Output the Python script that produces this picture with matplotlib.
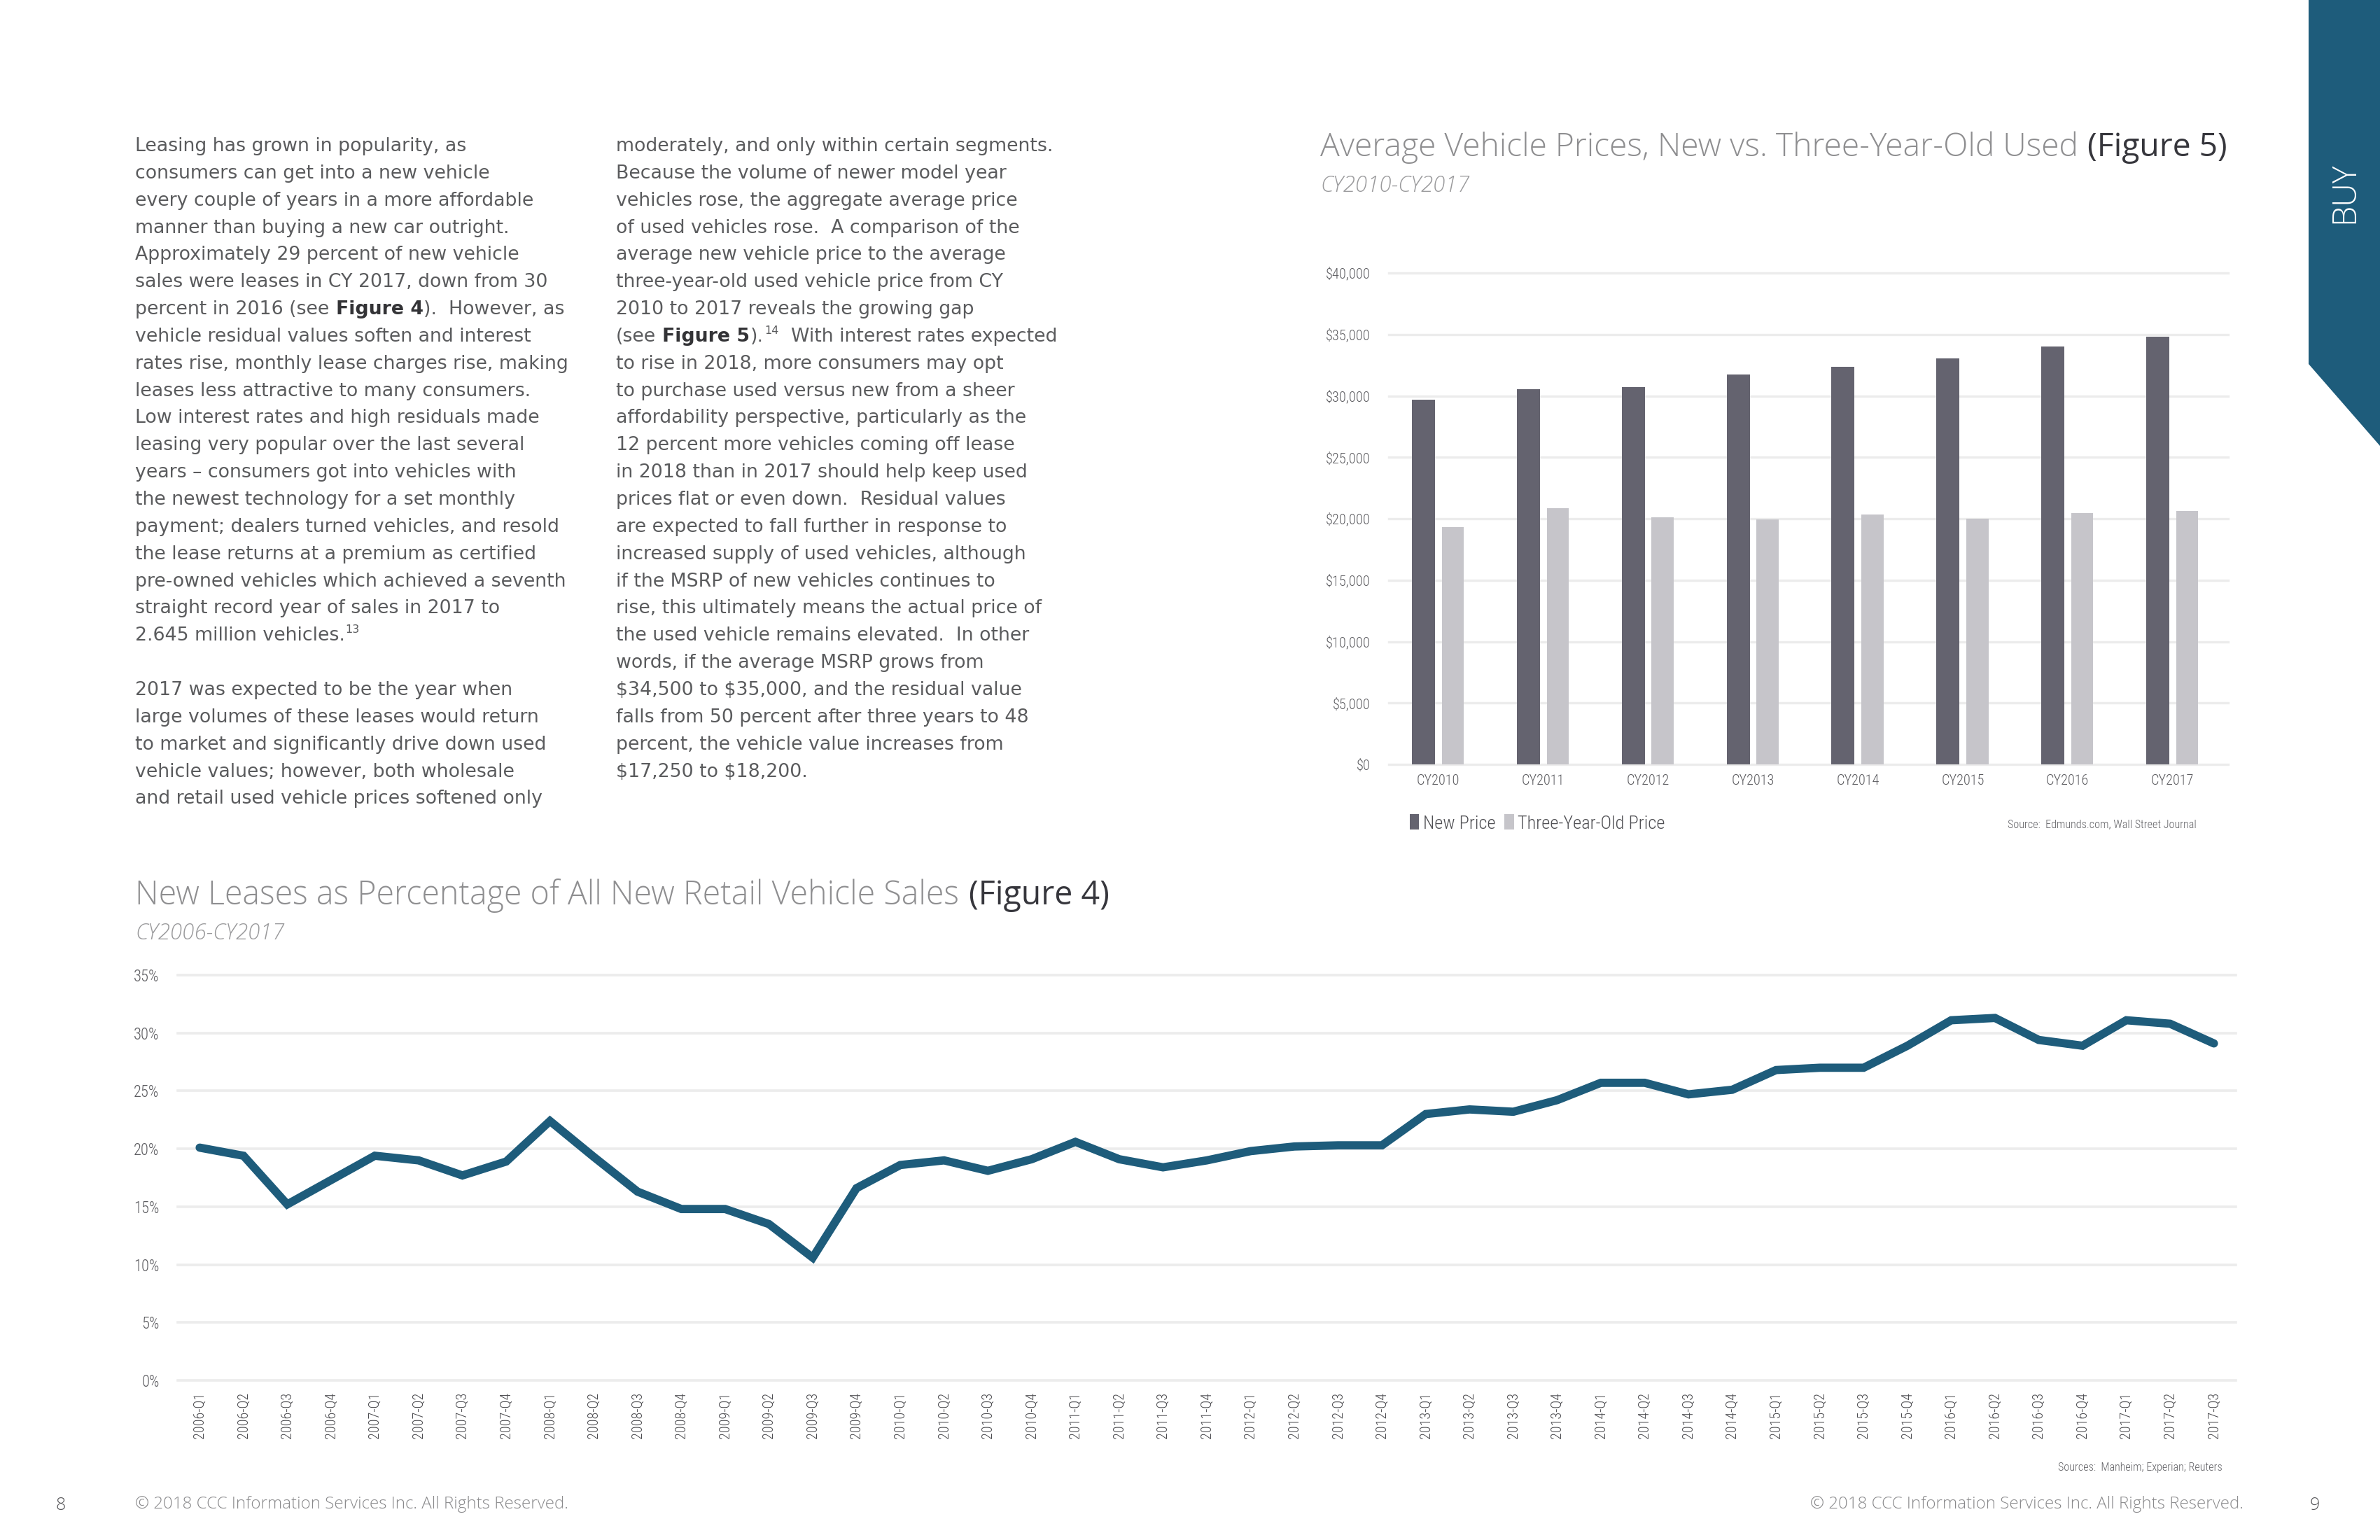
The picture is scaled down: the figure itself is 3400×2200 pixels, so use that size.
import matplotlib
matplotlib.use("Agg")
import matplotlib.pyplot as plt
import numpy as np
from matplotlib import font_manager as fm
from matplotlib.patches import Polygon

# ---------------- data ----------------
years = ["CY2010", "CY2011", "CY2012", "CY2013", "CY2014", "CY2015", "CY2016", "CY2017"]
new_price = [29700, 30530, 30740, 31760, 32370, 33070, 34000, 34830]
used_price = [19300, 20830, 20130, 19940, 20320, 20020, 20440, 20650]
price_ticks = [0, 5000, 10000, 15000, 20000, 25000, 30000, 35000, 40000]
price_labels = ["\\$0", "\\$5,000", "\\$10,000", "\\$15,000", "\\$20,000",
                "\\$25,000", "\\$30,000", "\\$35,000", "\\$40,000"]

quarters = ["2006-Q1", "2006-Q2", "2006-Q3", "2006-Q4",
            "2007-Q1", "2007-Q2", "2007-Q3", "2007-Q4",
            "2008-Q1", "2008-Q2", "2008-Q3", "2008-Q4",
            "2009-Q1", "2009-Q2", "2009-Q3", "2009-Q4",
            "2010-Q1", "2010-Q2", "2010-Q3", "2010-Q4",
            "2011-Q1", "2011-Q2", "2011-Q3", "2011-Q4",
            "2012-Q1", "2012-Q2", "2012-Q3", "2012-Q4",
            "2013-Q1", "2013-Q2", "2013-Q3", "2013-Q4",
            "2014-Q1", "2014-Q2", "2014-Q3", "2014-Q4",
            "2015-Q1", "2015-Q2", "2015-Q3", "2015-Q4",
            "2016-Q1", "2016-Q2", "2016-Q3", "2016-Q4",
            "2017-Q1", "2017-Q2", "2017-Q3"]
lease_pct = [20.1, 19.4, 15.2, 17.3, 19.4, 19.0, 17.7, 18.9,
             22.4, 19.3, 16.3, 14.8, 14.8, 13.5, 10.6, 16.6,
             18.6, 19.0, 18.1, 19.1, 20.6, 19.1, 18.4, 19.0,
             19.8, 20.2, 20.3, 20.3, 23.0, 23.4, 23.2, 24.2,
             25.7, 25.7, 24.7, 25.1, 26.8, 27.0, 27.0, 28.9,
             31.1, 31.3, 29.4, 28.9, 31.1, 30.8, 29.1]
pct_ticks = [0, 5, 10, 15, 20, 25, 30, 35]
pct_labels = ["0%", "5%", "10%", "15%", "20%", "25%", "30%", "35%"]

col1_lines = [
    [("Leasing has grown in popularity, as",)],
    [("consumers can get into a new vehicle",)],
    [("every couple of years in a more affordable",)],
    [("manner than buying a new car outright.",)],
    [("Approximately 29 percent of new vehicle",)],
    [("sales were leases in CY 2017, down from 30",)],
    [("percent in 2016 (see ",), ("Figure 4", "b"), (").  However, as",)],
    [("vehicle residual values soften and interest",)],
    [("rates rise, monthly lease charges rise, making",)],
    [("leases less attractive to many consumers.",)],
    [("Low interest rates and high residuals made",)],
    [("leasing very popular over the last several",)],
    [("years \u2013 consumers got into vehicles with",)],
    [("the newest technology for a set monthly",)],
    [("payment; dealers turned vehicles, and resold",)],
    [("the lease returns at a premium as certified",)],
    [("pre-owned vehicles which achieved a seventh",)],
    [("straight record year of sales in 2017 to",)],
    [("2.645 million vehicles.",), ("13", "sup")],
    [],
    [("2017 was expected to be the year when",)],
    [("large volumes of these leases would return",)],
    [("to market and significantly drive down used",)],
    [("vehicle values; however, both wholesale",)],
    [("and retail used vehicle prices softened only",)],
]
col2_lines = [
    [("moderately, and only within certain segments.",)],
    [("Because the volume of newer model year",)],
    [("vehicles rose, the aggregate average price",)],
    [("of used vehicles rose.  A comparison of the",)],
    [("average new vehicle price to the average",)],
    [("three-year-old used vehicle price from CY",)],
    [("2010 to 2017 reveals the growing gap",)],
    [("(see ",), ("Figure 5", "b"), (").",), ("14", "sup"), ("  With interest rates expected",)],
    [("to rise in 2018, more consumers may opt",)],
    [("to purchase used versus new from a sheer",)],
    [("affordability perspective, particularly as the",)],
    [("12 percent more vehicles coming off lease",)],
    [("in 2018 than in 2017 should help keep used",)],
    [("prices flat or even down.  Residual values",)],
    [("are expected to fall further in response to",)],
    [("increased supply of used vehicles, although",)],
    [("if the MSRP of new vehicles continues to",)],
    [("rise, this ultimately means the actual price of",)],
    [("the used vehicle remains elevated.  In other",)],
    [("words, if the average MSRP grows from",)],
    [("$34,500 to $35,000, and the residual value",)],
    [("falls from 50 percent after three years to 48",)],
    [("percent, the vehicle value increases from",)],
    [("$17,250 to $18,200.",)],
]

# ---------------- fonts ----------------
def _wt(f):
    w = f.weight
    if isinstance(w, str):
        return fm.weight_dict.get(w, 400)
    return w

ENTRIES = fm.fontManager.ttflist
NAMES = {f.name for f in ENTRIES}

def find_family(cands, wmax=None):
    for c in cands:
        for f in ENTRIES:
            if f.name != c:
                continue
            if wmax is not None and _wt(f) > wmax:
                continue
            return c
    return None

LIGHT_FAM = find_family(["Open Sans", "Lato", "Roboto", "Inter", "Noto Sans", "DejaVu Sans"], wmax=350)
LIGHT_W = "light"
if LIGHT_FAM is None:
    LIGHT_FAM, LIGHT_W = "DejaVu Sans", "normal"

def find_condensed():
    prefs = ["Liberation Sans Narrow", "Roboto Condensed", "Open Sans Condensed",
             "Noto Sans Condensed", "DejaVu Sans Condensed", "PT Sans Narrow",
             "Ubuntu Condensed", "Archivo Narrow"]
    for p in prefs:
        if p in NAMES:
            return p, "normal"
    for f in ENTRIES:
        if ("Narrow" in f.name or "Condensed" in f.name) and "Mono" not in f.name:
            return f.name, "normal"
    for f in ENTRIES:
        if f.stretch in ("condensed", "semi-condensed", "extra-condensed",
                         "ultra-condensed") and "Mono" not in f.name:
            return f.name, f.stretch
    return None, "normal"

COND_FAM, COND_STRETCH = find_condensed()
COND_W = "normal"
if COND_FAM is None:
    COND_FACTOR = 1.22
    if find_family(["Roboto"], wmax=350):
        COND_FAM, COND_W = "Roboto", "light"
    elif "Roboto" in NAMES:
        COND_FAM = "Roboto"
    else:
        COND_FAM, COND_W = LIGHT_FAM, LIGHT_W
else:
    COND_FACTOR = 1.1
    lighter = [f for f in ENTRIES if f.name == COND_FAM and _wt(f) <= 350
               and (COND_STRETCH == "normal" or f.stretch == COND_STRETCH)]
    if lighter:
        COND_W = "light"

BODY_FAM = "DejaVu Sans"

LIGHT = dict(family=LIGHT_FAM, fontweight=LIGHT_W)
COND = dict(family=COND_FAM, fontstretch=COND_STRETCH, fontweight=COND_W)
BODY = dict(family=BODY_FAM, fontweight="normal")

# ---------------- colours ----------------
BLUE = "#1e5c7b"
DARK = "#64636f"
LIGHTBAR = "#c6c5ca"
GRID = "#ececec"
TXT = "#5a5b5d"
TITLE_GREY = "#8e8e90"
TITLE_DARK = "#36363c"
TICK = "#5c5c60"

# ---------------- figure ----------------
W, H, DPI = 3400, 2200, 100
fig = plt.figure(figsize=(W / DPI, H / DPI), dpi=DPI)
fig.patch.set_facecolor("white")
R = fig.canvas.get_renderer()

def fx(x):
    return x / W

def fy(y):
    return 1 - y / H

def measure(s, size, **kw):
    t = fig.text(0, 0, s, fontsize=size, parse_math=False, **kw)
    w = t.get_window_extent(R).width
    t.remove()
    return w

def fit(s, target, **kw):
    return 20.0 * target / measure(s, 20.0, **kw)

def space_w(size, **kw):
    return measure("a a", size, **kw) - measure("aa", size, **kw)

def draw_runs(x, y, parts, size, base, bold_color=None, draw=True):
    """parts: list of (text,) or (text, 'b'|'sup'|'dark'); y is the baseline in px."""
    cx = x
    for p in parts:
        s = p[0]
        kind = p[1] if len(p) > 1 else ""
        kw = dict(base)
        sz = size
        dy = 0.0
        if kind == "b":
            kw["fontweight"] = "bold"
            if bold_color:
                kw["color"] = bold_color
        elif kind == "sup":
            sz = size * 0.6
            dy = size * DPI / 72 * 0.42
        elif kind == "dark":
            kw["fontweight"] = "normal"
            if bold_color:
                kw["color"] = bold_color
        mkw = {k: v for k, v in kw.items() if k != "color"}
        sp = space_w(sz, **mkw)
        nl = len(s) - len(s.lstrip(" "))
        nt = len(s) - len(s.rstrip(" "))
        core = s.strip(" ")
        cx += nl * sp
        if core:
            if draw:
                t = fig.text(fx(cx), fy(y - dy), core, fontsize=sz, ha="left",
                             va="baseline", parse_math=False, **kw)
                wdt = t.get_window_extent(R).width
            else:
                wdt = measure(core, sz, **mkw)
            cx += wdt + sz * DPI / 72 * 0.03
        cx += nt * sp
    return cx - x

# ---------------- body text ----------------
body_size = fit("pre-owned vehicles which achieved a seventh", 617, **BODY)
base_body = dict(BODY, color=TXT)
y0, step = 216, 38.85
for i, parts in enumerate(col1_lines):
    if parts:
        draw_runs(193, y0 + i * step, parts, body_size, base_body, bold_color="#333336")
for i, parts in enumerate(col2_lines):
    if parts:
        draw_runs(880, y0 + i * step, parts, body_size, base_body, bold_color="#333336")

# ---------------- titles ----------------
def title(x, y, main, fig_part, target):
    parts = [(main,), (" " + fig_part, "dark")]
    base = dict(LIGHT, color=TITLE_GREY)
    w20 = draw_runs(0, 0, parts, 20.0, base, bold_color=TITLE_DARK, draw=False)
    size = 20.0 * target / w20
    draw_runs(x, y, parts, size, base, bold_color=TITLE_DARK)

title(1886, 223, "Average Vehicle Prices, New vs. Three-Year-Old Used", "(Figure 5)", 1301)
title(193, 1292, "New Leases as Percentage of All New Retail Vehicle Sales", "(Figure 4)", 1394)

sub_kw = dict(LIGHT, fontstyle="italic")
s1 = fit("CY2010-CY2017", 213, **sub_kw)
fig.text(fx(1886), fy(274), "CY2010-CY2017", fontsize=s1, color="#9a9a9c",
         ha="left", va="baseline", **sub_kw)
fig.text(fx(193), fy(1342), "CY2006-CY2017", fontsize=s1, color="#9a9a9c",
         ha="left", va="baseline", **sub_kw)

# ---------------- bar chart (Figure 5) ----------------
ax1 = fig.add_axes([fx(1984), fy(1092), (3183 - 1984) / W, (1092 - 390) / H])
xb = np.arange(len(years))
b_new = ax1.bar(xb - 0.14, new_price, width=0.22, color=DARK, zorder=3, label="New Price")
b_used = ax1.bar(xb + 0.14, used_price, width=0.21, color=LIGHTBAR, zorder=3,
                 label="Three-Year-Old Price")
ax1.set_xlim(-0.47, 7.53)
ax1.set_ylim(0, 40000)
ax1.set_yticks(price_ticks)
ax1.set_xticks(xb)
ytick_size = fit("$40,000", 58, **COND) * COND_FACTOR
xtick_size = fit("CY2010", 56, **COND) * COND_FACTOR
ax1.set_yticklabels(price_labels, fontsize=ytick_size, color=TICK, **COND)
ax1.set_xticklabels(years, fontsize=xtick_size, color=TICK, **COND)
ax1.tick_params(axis="y", length=0, pad=19)
ax1.tick_params(axis="x", length=0, pad=10)
ax1.grid(axis="y", color=GRID, linewidth=2.4, zorder=0)
ax1.set_axisbelow(True)
for ln in ax1.get_ygridlines():
    ln.set_clip_on(False)
for sp in ax1.spines.values():
    sp.set_visible(False)

leg_size = fit("Three-Year-Old Price", 191, **COND) * COND_FACTOR
ax1.legend(handles=[b_new, b_used], loc="center left",
           bbox_to_anchor=(fx(2014), fy(1176)), bbox_transform=fig.transFigure,
           ncol=2, frameon=False, handlelength=0.5, handleheight=0.9,
           handletextpad=0.2, columnspacing=0.5, borderpad=0, borderaxespad=0,
           prop=fm.FontProperties(family=COND_FAM, stretch=COND_STRETCH,
                                  weight=COND_W, size=leg_size),
           labelcolor="#505054")

src_size = fit("Source:  Edmunds.com, Wall Street Journal", 269, **COND)
fig.text(fx(3138), fy(1182), "Source:  Edmunds.com, Wall Street Journal", fontsize=src_size,
         color="#606064", ha="right", va="baseline", **COND)

# ---------------- line chart (Figure 4) ----------------
ax2 = fig.add_axes([fx(254), fy(1972), (3194 - 254) / W, (1972 - 1393) / H])
xq = np.arange(len(quarters))
ax2.plot(xq, lease_pct, color=BLUE, linewidth=8.5, solid_joinstyle="miter",
         solid_capstyle="round", zorder=3, clip_on=False)
ax2.set_xlim(-0.5, len(quarters) - 0.5)
ax2.set_ylim(0, 35)
ax2.set_yticks(pct_ticks)
ax2.set_xticks(xq)
p_size = fit("35%", 33, **COND) * COND_FACTOR
ax2.set_yticklabels(pct_labels, fontsize=p_size, color=TICK, **COND)
q_size = fit("2006-Q1", 60, **COND) * COND_FACTOR
ax2.set_xticklabels(quarters, rotation=90, fontsize=q_size, color="#4a4a4e", **COND)
ax2.tick_params(axis="y", length=0, pad=19)
ax2.tick_params(axis="x", length=0, pad=12)
ax2.grid(axis="y", color=GRID, linewidth=2.6, zorder=0)
ax2.set_axisbelow(True)
for ln in ax2.get_ygridlines():
    ln.set_clip_on(False)
for sp in ax2.spines.values():
    sp.set_visible(False)

srcs_size = fit("Sources:  Manheim; Experian; Reuters", 235, **COND)
fig.text(fx(3175), fy(2101), "Sources:  Manheim; Experian; Reuters", fontsize=srcs_size,
         color="#606064", ha="right", va="baseline", **COND)

# ---------------- page furniture ----------------
copy = "\u00a9 2018 CCC Information Services Inc. All Rights Reserved."
c_size = fit(copy, 620, **LIGHT)
fig.text(fx(193), fy(2155), copy, fontsize=c_size, color="#8a8a8c", ha="left",
         va="baseline", **LIGHT)
fig.text(fx(3205), fy(2155), copy, fontsize=c_size, color="#8a8a8c", ha="right",
         va="baseline", **LIGHT)
fig.text(fx(87), fy(2157), "8", fontsize=18, color="#555558", ha="center",
         va="baseline", **LIGHT)
fig.text(fx(3307), fy(2157), "9", fontsize=18, color="#555558", ha="center",
         va="baseline", **LIGHT)

tab = Polygon([[fx(3298), fy(0)], [fx(3400), fy(0)], [fx(3400), fy(637)], [fx(3298), fy(520)]],
              closed=True, transform=fig.transFigure, facecolor=BLUE, edgecolor="none")
fig.patches.append(tab)
buy_size = fit("BUY", 87, **LIGHT)
fig.text(fx(3350), fy(275), "BUY", rotation=90, fontsize=buy_size, color="white",
         ha="center", va="center", **LIGHT)

fig.savefig("out.png", dpi=DPI, facecolor="white")
